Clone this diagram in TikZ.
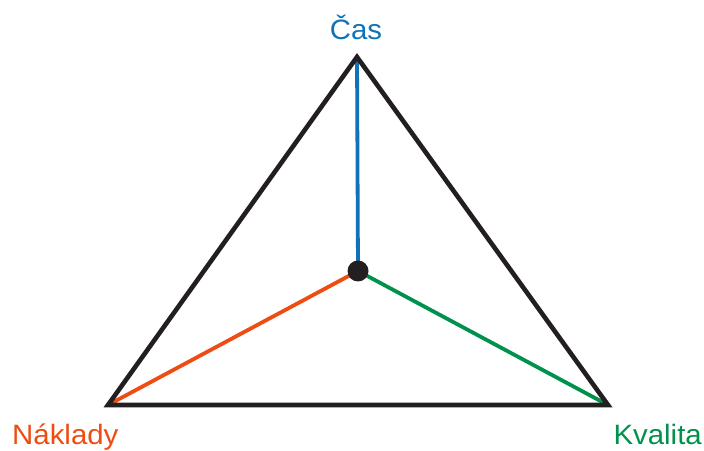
\documentclass[tikz,border=0pt]{standalone}
\usepackage{fontspec}
\setmainfont{Liberation Sans}[FakeStretch=1.05]
\usepackage{tikz}
\usetikzlibrary{positioning, calc}
\definecolor{casblue}{RGB}{17, 115, 182}
\definecolor{costorange}{RGB}{238, 76, 18}
\definecolor{qualgreen}{RGB}{0, 146, 76}
\definecolor{edgeblack}{RGB}{35, 31, 32}

\begin{document}
\begin{tikzpicture}[x=1pt, y=1pt,
    vertex/.style={inner sep=0pt, minimum size=0pt},
    label/.style={font=\fontsize{28}{32}\selectfont, inner sep=0pt}]
        \useasboundingbox (0,0) rectangle (704,450);
        \node[vertex] (top) at (357,393) {};
        \node[vertex] (left) at (108,45) {};
        \node[vertex] (right) at (608,45) {};
        \node[vertex] (mid) at (358,179) {};
        \draw[line width=3.8pt, casblue] (mid.center) -- (top.center);
        \draw[line width=3.8pt, costorange] (mid.center) -- (left.center);
        \draw[line width=3.8pt, qualgreen] (mid.center) -- (right.center);
        \draw[line width=4.6pt, edgeblack, line join=miter] (top.center) -- (left.center) -- (right.center) -- cycle;
        \fill[edgeblack] (mid) circle (10.5pt);
        \node[label, text=casblue, anchor=base] (cas) at (356,410) {Čas};
        \node[label, text=costorange, anchor=base west] (naklady) at (12,6) {Náklady};
        \node[label, text=qualgreen, anchor=base east] (kvalita) at (702,6) {Kvalita};
    \end{tikzpicture}
\end{document}
